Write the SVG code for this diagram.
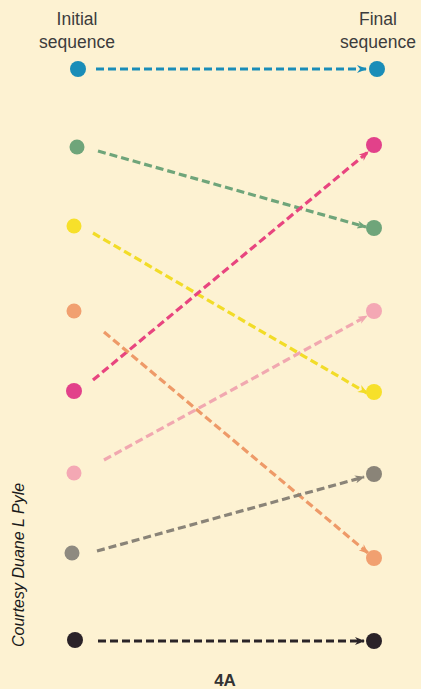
<svg xmlns="http://www.w3.org/2000/svg" width="421" height="689" viewBox="0 0 421 689">
<style>
.lbl{font-family:"Liberation Sans",Arial,sans-serif;font-size:17.5px;fill:#3c3c3c;text-anchor:middle}
.cr{font-family:"Liberation Sans",Arial,sans-serif;font-size:16px;font-style:italic;fill:#1a1a1a}
.fig{font-family:"Liberation Sans",Arial,sans-serif;font-size:17px;font-weight:bold;fill:#333;text-anchor:middle}
.c{stroke-width:3.2;stroke-dasharray:8 4;fill:none}
</style>
<defs>
<marker id="ab" markerWidth="10" markerHeight="8" refX="9" refY="4" orient="auto" markerUnits="userSpaceOnUse"><path d="M0,0 L10,4 L0,8 L3,4 Z" fill="#1A8DB8"/></marker>
<marker id="ag" markerWidth="10" markerHeight="8" refX="9" refY="4" orient="auto" markerUnits="userSpaceOnUse"><path d="M0,0 L10,4 L0,8 L3,4 Z" fill="#6FA57A"/></marker>
<marker id="ay" markerWidth="10" markerHeight="8" refX="9" refY="4" orient="auto" markerUnits="userSpaceOnUse"><path d="M0,0 L10,4 L0,8 L3,4 Z" fill="#F2DC28"/></marker>
<marker id="am" markerWidth="10" markerHeight="8" refX="9" refY="4" orient="auto" markerUnits="userSpaceOnUse"><path d="M0,0 L10,4 L0,8 L3,4 Z" fill="#E8457F"/></marker>
<marker id="ao" markerWidth="10" markerHeight="8" refX="9" refY="4" orient="auto" markerUnits="userSpaceOnUse"><path d="M0,0 L10,4 L0,8 L3,4 Z" fill="#EE9A68"/></marker>
<marker id="ap" markerWidth="10" markerHeight="8" refX="9" refY="4" orient="auto" markerUnits="userSpaceOnUse"><path d="M0,0 L10,4 L0,8 L3,4 Z" fill="#F1A8B0"/></marker>
<marker id="ar" markerWidth="10" markerHeight="8" refX="9" refY="4" orient="auto" markerUnits="userSpaceOnUse"><path d="M0,0 L10,4 L0,8 L3,4 Z" fill="#8A8478"/></marker>
<marker id="ak" markerWidth="10" markerHeight="8" refX="9" refY="4" orient="auto" markerUnits="userSpaceOnUse"><path d="M0,0 L10,4 L0,8 L3,4 Z" fill="#2A2428"/></marker>
</defs>
<rect width="421" height="689" fill="#FDF2D2"/>
<text class="lbl" x="77" y="25">Initial</text>
<text class="lbl" x="77" y="48">sequence</text>
<text class="lbl" x="378" y="25">Final</text>
<text class="lbl" x="378" y="48">sequence</text>
<text class="cr" transform="translate(24,647) rotate(-90)">Courtesy Duane L Pyle</text>
<text class="fig" x="225" y="686">4A</text>
<g id="connectors">
<line class="c" x1="96" y1="69" x2="366" y2="69" stroke="#1A8DB8" marker-end="url(#ab)"/>
<line class="c" x1="98" y1="151" x2="366" y2="227" stroke="#6FA57A" marker-end="url(#ag)"/>
<line class="c" x1="93" y1="233" x2="367" y2="393" stroke="#F2DC28" marker-end="url(#ay)"/>
<line class="c" x1="93" y1="380" x2="368" y2="152" stroke="#E8457F" marker-end="url(#am)"/>
<line class="c" x1="104" y1="332" x2="368" y2="553" stroke="#EE9A68" marker-end="url(#ao)"/>
<line class="c" x1="104" y1="460" x2="367" y2="316" stroke="#F1A8B0" marker-end="url(#ap)"/>
<line class="c" x1="97" y1="551" x2="364" y2="477" stroke="#8A8478" marker-end="url(#ar)"/>
<line class="c" x1="98" y1="641" x2="364" y2="641" stroke="#2A2428" marker-end="url(#ak)"/>
</g>
<g id="i-blue"><circle cx="78" cy="69" r="8" fill="#1A8DB8"/></g>
<g id="i-green"><circle cx="77" cy="147" r="7.5" fill="#6FA57A"/></g>
<g id="i-yellow"><circle cx="74" cy="226" r="7.5" fill="#F7E02A"/></g>
<g id="i-orange"><circle cx="74" cy="311" r="7.5" fill="#F1A070"/></g>
<g id="i-magenta"><circle cx="74" cy="391" r="8" fill="#E2418A"/></g>
<g id="i-pink"><circle cx="74" cy="473" r="7.5" fill="#F4A8B4"/></g>
<g id="i-gray"><circle cx="72" cy="553" r="7.5" fill="#8E8A80"/></g>
<g id="i-black"><circle cx="75" cy="640" r="8" fill="#2A2228"/></g>
<g id="f-blue"><circle cx="377" cy="69" r="8" fill="#1A8DB8"/></g>
<g id="f-magenta"><circle cx="374" cy="145" r="8" fill="#E2418A"/></g>
<g id="f-green"><circle cx="374" cy="228" r="8" fill="#6FA57A"/></g>
<g id="f-pink"><circle cx="374" cy="311" r="8" fill="#F4A8B4"/></g>
<g id="f-yellow"><circle cx="374" cy="392" r="8" fill="#F7E02A"/></g>
<g id="f-gray"><circle cx="374" cy="474" r="8" fill="#8A8478"/></g>
<g id="f-orange"><circle cx="374" cy="558" r="8" fill="#F1A070"/></g>
<g id="f-black"><circle cx="374" cy="641" r="8" fill="#2A2228"/></g>
</svg>
